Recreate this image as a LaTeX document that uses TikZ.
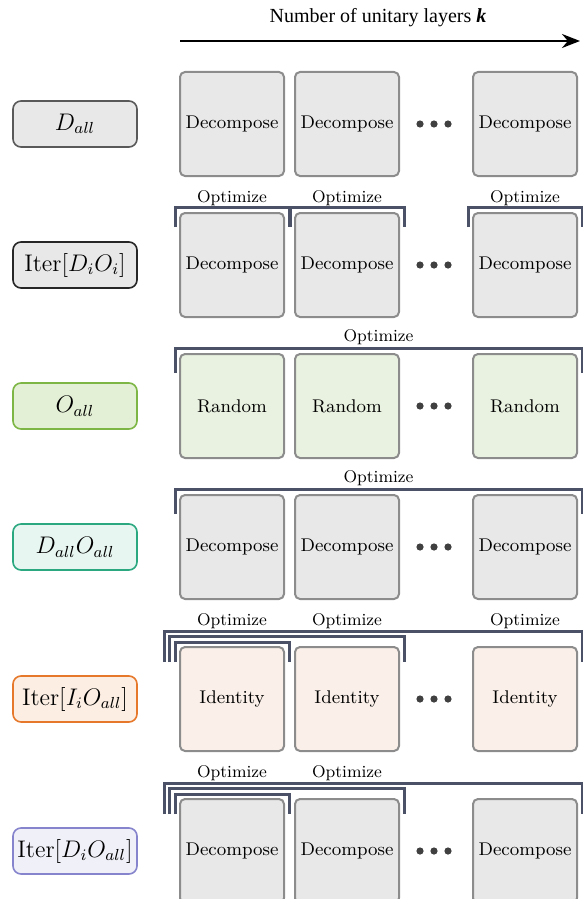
\documentclass[tikz,border=0pt]{standalone}
\usepackage{fontspec}
\newfontfamily\titlefont{Liberation Serif}
\usetikzlibrary{calc,arrows.meta}
\definecolor{decfill}{HTML}{E8E8E8}
\definecolor{rndfill}{HTML}{E9F2E0}
\definecolor{idfill}{HTML}{FBF0E9}
\definecolor{layerdraw}{HTML}{8C8C8C}
\definecolor{brkcol}{HTML}{4B5166}
\definecolor{dotcol}{HTML}{404040}
\definecolor{ofill}{HTML}{E3F0D5}
\definecolor{odraw}{HTML}{7DB644}
\definecolor{dofill}{HTML}{E7F6F1}
\definecolor{dodraw}{HTML}{2BA880}
\definecolor{iofill}{HTML}{FCEEE3}
\definecolor{iodraw}{HTML}{E5782A}
\definecolor{dioafill}{HTML}{F0F0F9}
\definecolor{dioadraw}{HTML}{8684CC}

\begin{document}
\begin{tikzpicture}[x=0.5pt,y=-0.5pt,
    layer/.style={draw=layerdraw,line width=1pt,rounded corners=2.5pt,minimum width=52pt,minimum height=52pt,inner sep=0pt,font=\fontsize{9.2}{11}\selectfont},
    method/.style={line width=0.8pt,rounded corners=4pt,minimum width=62pt,minimum height=23pt,inner sep=0pt,font=\fontsize{12}{14}\selectfont},
    brk/.style={draw=brkcol,line width=1.5pt},
    opt/.style={font=\fontsize{8.5}{10}\selectfont,inner sep=0pt}]

    \useasboundingbox (0,0) rectangle (583,899);

    \node[font=\titlefont\fontsize{10}{12}\selectfont] (title) at (378,18) {Number of unitary layers \textbf{\textit{k}}};
    \coordinate (ax0) at (180,41);
    \coordinate (ax1) at (580,41);
    \draw[line width=1pt,-{Stealth[length=9pt,width=7pt]}] (ax0) -- (ax1);

    \foreach \r/\y/\txt/\fc in {1/124/Decompose/decfill,2/265/Decompose/decfill,3/406/Random/rndfill,4/547/Decompose/decfill,5/699/Identity/idfill,6/851/Decompose/decfill} {
        \node[layer,fill=\fc] (b\r1) at (232,\y) {\txt};
        \node[layer,fill=\fc] (b\r2) at (347,\y) {\txt};
        \node[layer,fill=\fc] (b\r k) at (525,\y) {\txt};
        \foreach \d in {420,434,448}
            \fill[dotcol] (\d,\y) circle (1.8pt);
    }

    \node[method,fill=decfill,draw=black!65] (m1) at (75,124) {$D_{all}$};
    \node[method,fill=decfill,draw=black!85] (m2) at (75,265) {Iter$[D_iO_i]$};
    \node[method,fill=ofill,draw=odraw] (m3) at (75,406) {$O_{all}$};
    \node[method,fill=dofill,draw=dodraw] (m4) at (75,547) {$D_{all}O_{all}$};
    \node[method,fill=iofill,draw=iodraw] (m5) at (75,699) {Iter$[I_iO_{all}]$};
    \node[method,fill=dioafill,draw=dioadraw] (m6) at (75,851) {Iter$[D_iO_{all}]$};

    \foreach \c in {1,2,k} {
        \draw[brk] ($(b2\c.north west)+(-2pt,-7.5pt)$) |- ($(b2\c.north east)+(2pt,2.5pt)$) -- ($(b2\c.north east)+(2pt,-7.5pt)$);
        \node[opt] (o2\c) at ($(b2\c.north)+(0,7pt)$) {Optimize};
    }

    \foreach \r in {3,4} {
        \draw[brk] ($(b\r1.north west)+(-2pt,-10pt)$) |- ($(b\r k.north east)+(2pt,2.5pt)$) -- ($(b\r k.north east)+(2pt,-10pt)$);
        \node[opt] (o\r) at ($(b\r1.north west)!0.5!(b\r k.north east)+(0,8pt)$) {Optimize};
    }

    \foreach \r in {5,6}
        \foreach \e/\off in {k/7.5pt,2/4.75pt,1/2pt}
            \draw[brk] ($(b\r1.north west)+(-\off,-8pt)$) |- ($(b\r\e.north east)+(2pt,\off)$) -- ($(b\r\e.north east)+(2pt,-8pt)$);

    \node[opt] (o51) at ($(b51.north)+(0,12.5pt)$) {Optimize};
    \node[opt] (o52) at ($(b52.north)+(0,12.5pt)$) {Optimize};
    \node[opt] (o5k) at ($(b5k.north)+(0,12.5pt)$) {Optimize};
    \node[opt] (o61) at ($(b61.north)+(0,12.5pt)$) {Optimize};
    \node[opt] (o62) at ($(b62.north)+(0,12.5pt)$) {Optimize};
\end{tikzpicture}
\end{document}
